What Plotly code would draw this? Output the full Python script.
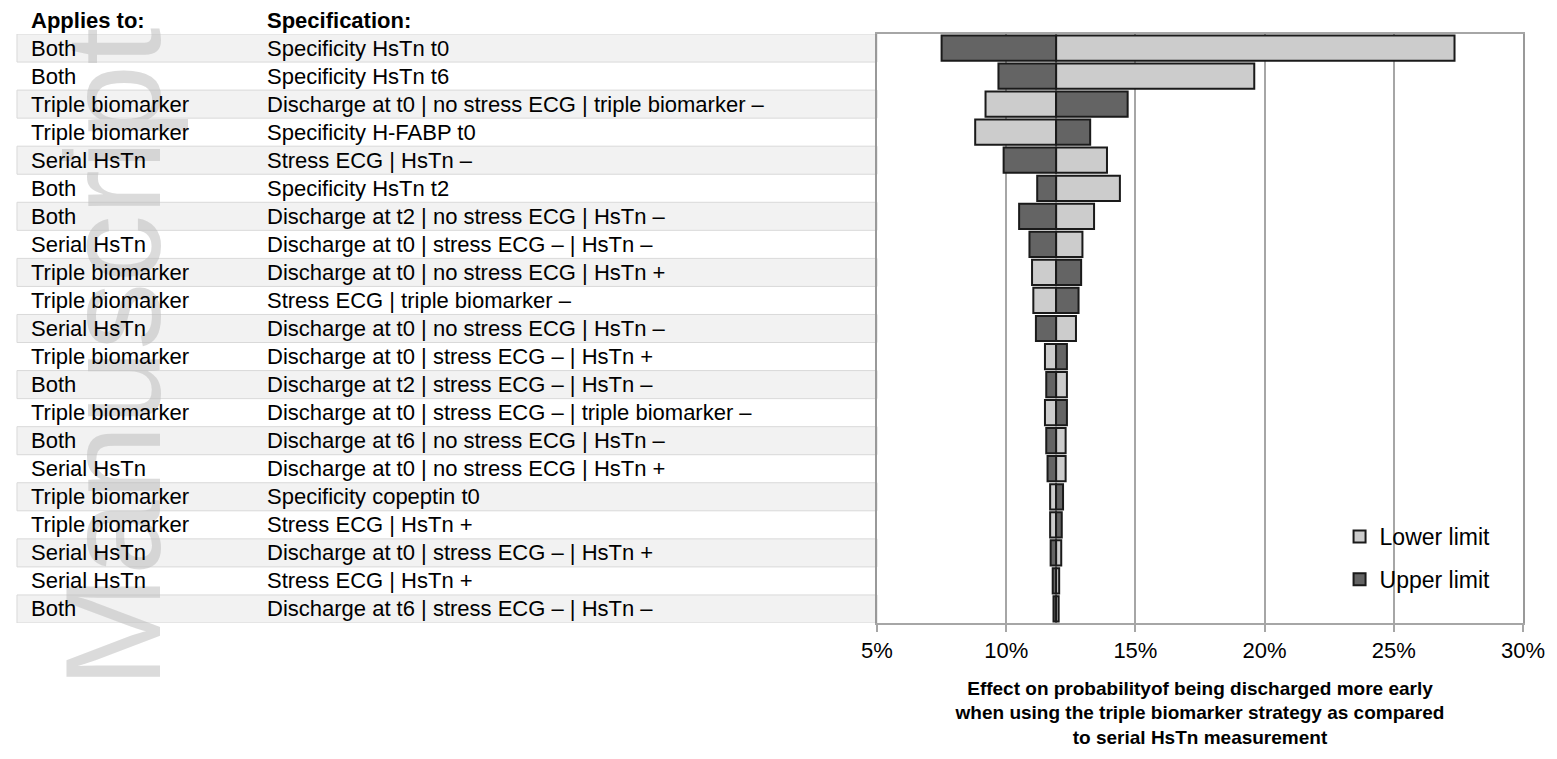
import plotly.graph_objects as go

applies_to = ["Both", "Both", "Triple biomarker", "Triple biomarker", "Serial HsTn", "Both", "Both",
              "Serial HsTn", "Triple biomarker", "Triple biomarker", "Serial HsTn", "Triple biomarker",
              "Both", "Triple biomarker", "Both", "Serial HsTn", "Triple biomarker", "Triple biomarker",
              "Serial HsTn", "Serial HsTn", "Both"]
specification = [
    "Specificity HsTn t0",
    "Specificity HsTn t6",
    "Discharge at t0 | no stress ECG | triple biomarker –",
    "Specificity H-FABP t0",
    "Stress ECG | HsTn –",
    "Specificity HsTn t2",
    "Discharge at t2 | no stress ECG | HsTn –",
    "Discharge at t0 | stress ECG – | HsTn –",
    "Discharge at t0 | no stress ECG | HsTn +",
    "Stress ECG | triple biomarker –",
    "Discharge at t0 | no stress ECG | HsTn –",
    "Discharge at t0 | stress ECG – | HsTn +",
    "Discharge at t2 | stress ECG – | HsTn –",
    "Discharge at t0 | stress ECG – | triple biomarker –",
    "Discharge at t6 | no stress ECG | HsTn –",
    "Discharge at t0 | no stress ECG | HsTn +",
    "Specificity copeptin t0",
    "Stress ECG | HsTn +",
    "Discharge at t0 | stress ECG – | HsTn +",
    "Stress ECG | HsTn +",
    "Discharge at t6 | stress ECG – | HsTn –",
]
base_value = 11.93
lower_limit = [27.35, 19.6, 9.2, 8.8, 13.9, 14.4, 13.4, 12.95, 11.0, 11.05, 12.7, 11.5,
               12.35, 11.5, 12.3, 12.3, 11.7, 11.7, 12.13, 12.05, 12.03]
upper_limit = [7.5, 9.7, 14.7, 13.25, 9.9, 11.2, 10.5, 10.9, 12.9, 12.8, 11.15, 12.35,
               11.55, 12.35, 11.55, 11.6, 12.2, 12.15, 11.72, 11.8, 11.83]
x_ticks = [5, 10, 15, 20, 25, 30]

rows = list(range(len(specification)))
FONT = "Arial, Liberation Sans, sans-serif"

fig = go.Figure()
fig.add_trace(go.Bar(
    name="Lower limit", y=rows, x=[v - base_value for v in lower_limit], base=base_value,
    orientation="h", width=0.9, legendgroup="a",
    marker=dict(color="#cccccc", line=dict(color="#1a1a1a", width=2)),
))
fig.add_trace(go.Bar(
    name="Upper limit", y=rows, x=[v - base_value for v in upper_limit], base=base_value,
    orientation="h", width=0.9, legendgroup="b",
    marker=dict(color="#646464", line=dict(color="#1a1a1a", width=2)),
))

L, R, T, B = 877, 25, 34, 136
W, H = 1557, 759
pw = W - L - R
ph = H - T - B


def px2paper(px):
    return (px - L) / pw


def py2paper(py):
    return 1 - (py - T) / ph


shapes = []
for i in rows:
    if i % 2 == 0:
        shapes.append(dict(type="rect", xref="paper", yref="y", x0=px2paper(5), x1=0,
                           y0=i - 0.5, y1=i + 0.5, fillcolor="#f2f2f2",
                           line=dict(color="#d9d9d9", width=1), layer="below"))

annotations = [
    dict(text="Manuscript", textangle=-90, xref="paper", yref="paper",
         x=px2paper(102), y=py2paper(358), xanchor="center", yanchor="middle", showarrow=False,
         font=dict(family=FONT, size=135, color="rgba(190,190,190,0.55)"))
]
TXT = 22
for i in rows:
    annotations.append(dict(text=applies_to[i], xref="paper", yref="y", x=px2paper(17), y=i,
                            xanchor="left", yanchor="middle", showarrow=False,
                            font=dict(family=FONT, size=TXT, color="black")))
    annotations.append(dict(text=specification[i], xref="paper", yref="y", x=px2paper(256), y=i,
                            xanchor="left", yanchor="middle", showarrow=False,
                            font=dict(family=FONT, size=TXT, color="black")))
annotations.append(dict(text="<b>Applies to:</b>", xref="paper", yref="paper", x=px2paper(17),
                        y=py2paper(20), xanchor="left", yanchor="middle", showarrow=False,
                        font=dict(family=FONT, size=TXT, color="black")))
annotations.append(dict(text="<b>Specification:</b>", xref="paper", yref="paper", x=px2paper(256),
                        y=py2paper(20), xanchor="left", yanchor="middle", showarrow=False,
                        font=dict(family=FONT, size=TXT, color="black")))

fig.update_layout(
    width=W, height=H,
    margin=dict(l=L, r=R, t=T, b=B),
    plot_bgcolor="white", paper_bgcolor="white",
    barmode="overlay",
    showlegend=True,
    legend=dict(x=px2paper(1346), y=py2paper(515), xanchor="left", yanchor="top",
                bgcolor="rgba(0,0,0,0)", font=dict(family=FONT, size=23, color="black"),
                traceorder="grouped", tracegroupgap=10, itemwidth=30),
    shapes=shapes,
    annotations=annotations,
    xaxis=dict(range=[5, 30], tickvals=x_ticks, ticktext=[f"{t}%" for t in x_ticks],
               showgrid=True, gridcolor="#a6a6a6", gridwidth=2, zeroline=False,
               showline=True, linecolor="#a6a6a6", linewidth=2, mirror=True,
               ticks="outside", ticklen=7, tickwidth=2, tickcolor="#a6a6a6",
               tickfont=dict(family=FONT, size=22, color="black"),
               title=dict(text="<b>Effect on probabilityof being discharged more early<br>"
                               "when using the triple biomarker strategy as compared<br>"
                               "to serial HsTn measurement</b>",
                          font=dict(family=FONT, size=19, color="black"), standoff=19)),
    yaxis=dict(range=[20.5, -0.5], showticklabels=False, showgrid=False, zeroline=False,
               showline=True, linecolor="#999999", linewidth=2, mirror=True, ticks=""),
)

fig.write_html("out.html")
